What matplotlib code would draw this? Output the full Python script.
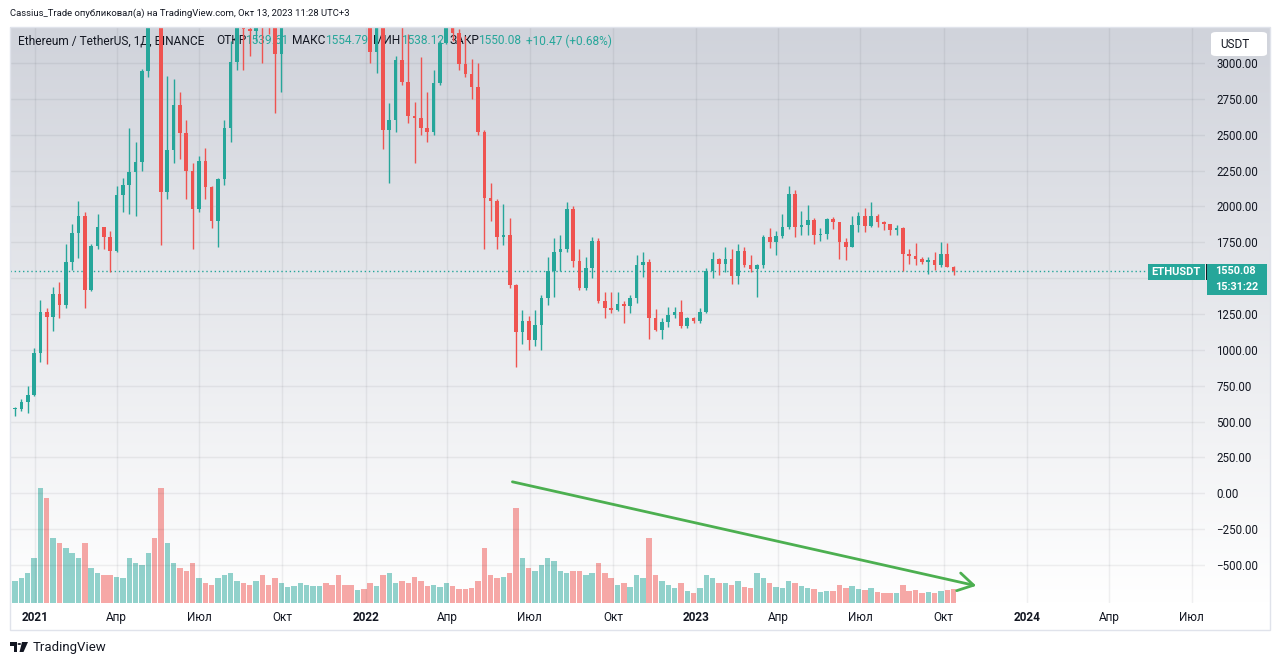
import matplotlib
matplotlib.use("Agg")
import matplotlib.pyplot as plt
import matplotlib.dates as mdates
from matplotlib import font_manager
from matplotlib.patches import Rectangle, FancyBboxPatch, Polygon, Circle
import numpy as np
import pandas as pd

plt.rcParams['font.family'] = ['Roboto', 'DejaVu Sans']

# weekly ETHUSDT candles (week starting Monday)
week_start = pd.date_range("2020-12-07", periods=149, freq="7D")
first_open = 590
closes = [590, 638, 685, 975, 1262, 1230, 1390, 1315, 1615, 1815,
          1935, 1415, 1725, 1855, 1785, 1690, 2080, 2150, 2240, 2310,
          2945, 3900, 3580, 2100, 2390, 2710, 2510, 2250, 1980, 2320,
          2135, 1900, 2190, 2550, 3010, 3310, 3240, 3225, 3930, 3410,
          3330, 3060, 3390, 3415, 3845, 4085, 4290, 4610, 4650, 4310,
          4290, 4190, 4060, 3920, 4050, 3830, 3080, 3330, 2530, 2600,
          3020, 2870, 2630, 2620, 2550, 2520, 2860, 3140, 3520, 3210,
          2990, 2920, 2830, 2520, 2060, 2040, 1790, 1800, 1450, 1125,
          1200, 1070, 1170, 1360, 1550, 1680, 1700, 1985, 1620, 1430,
          1570, 1760, 1340, 1295, 1275, 1320, 1305, 1365, 1590, 1610,
          1220, 1140, 1195, 1240, 1265, 1165, 1220, 1200, 1265, 1550,
          1630, 1600, 1630, 1515, 1690, 1595, 1565, 1590, 1790, 1750,
          1795, 1860, 2090, 1860, 1870, 1905, 1800, 1810, 1910, 1890,
          1750, 1720, 1870, 1935, 1865, 1935, 1890, 1880, 1835, 1850,
          1670, 1655, 1630, 1615, 1625, 1590, 1670, 1580, 1550.08]
highs = [600, 660, 750, 1015, 1350, 1290, 1440, 1475, 1740, 1875,
         2040, 1960, 1740, 1945, 1860, 1830, 2145, 2200, 2550, 2450,
         2960, 3980, 4370, 3600, 2910, 2890, 2800, 2600, 2300, 2350,
         2410, 2140, 2200, 2600, 3150, 3330, 3300, 3380, 4020, 4030,
         3680, 3320, 3490, 3670, 3900, 4380, 4460, 4660, 4870, 4770,
         4550, 4780, 4420, 4100, 4150, 4130, 3880, 3410, 3360, 2720,
         3050, 3280, 3200, 2730, 3040, 2800, 2950, 3150, 3580, 3555,
         3240, 3190, 3030, 3000, 2530, 2160, 2050, 2020, 1920, 1460,
         1280, 1235, 1280, 1380, 1650, 1780, 1800, 2030, 2000, 1700,
         1650, 1790, 1780, 1400, 1400, 1400, 1340, 1380, 1660, 1680,
         1630, 1285, 1220, 1300, 1300, 1350, 1230, 1230, 1290, 1570,
         1680, 1640, 1715, 1700, 1740, 1720, 1660, 1600, 1800, 1850,
         1830, 1950, 2140, 2115, 1965, 2010, 1920, 1850, 1920, 1925,
         1890, 1780, 1930, 1960, 1990, 2030, 1945, 1895, 1880, 1870,
         1860, 1700, 1745, 1650, 1650, 1680, 1750, 1745, 1585]
lows = [540, 575, 560, 680, 915, 900, 1130, 1220, 1290, 1560,
        1640, 1290, 1410, 1700, 1700, 1540, 1680, 1960, 1950, 1930,
        2250, 2900, 3500, 1730, 2050, 2300, 2330, 2050, 1700, 1960,
        2050, 1850, 1720, 2150, 2450, 2950, 2950, 3050, 3150, 3000,
        3200, 2650, 2800, 3280, 3400, 3700, 3900, 4150, 4490, 3950,
        3920, 3500, 3900, 3640, 3900, 3600, 3000, 2930, 2400, 2160,
        2520, 2850, 2580, 2300, 2500, 2450, 2500, 2850, 3130, 3150,
        2950, 2900, 2750, 2500, 1700, 1900, 1700, 1730, 1430, 880,
        1040, 1000, 1030, 1000, 1310, 1370, 1550, 1680, 1580, 1420,
        1420, 1500, 1330, 1220, 1260, 1270, 1190, 1255, 1330, 1510,
        1075, 1130, 1075, 1160, 1220, 1155, 1150, 1185, 1190, 1260,
        1500, 1520, 1540, 1460, 1460, 1580, 1540, 1370, 1570, 1710,
        1660, 1780, 1840, 1790, 1800, 1800, 1740, 1760, 1770, 1845,
        1630, 1625, 1720, 1820, 1820, 1855, 1860, 1835, 1800, 1800,
        1550, 1600, 1590, 1600, 1530, 1560, 1575, 1575, 1520]
# volume, thousand ETH per day (typical level of the week)
volumes = [730, 830, 990, 1490, 3800, 3450, 2150, 1980, 1815, 1650,
           1485, 1980, 1155, 990, 925, 925, 860, 825, 1485, 1320,
           1255, 1650, 2145, 3800, 1980, 1320, 1155, 1055, 1320, 825,
           660, 595, 825, 925, 990, 725, 660, 595, 725, 925,
           595, 825, 660, 530, 560, 660, 595, 560, 560, 660,
           595, 925, 595, 595, 430, 460, 660, 560, 925, 990,
           660, 725, 660, 860, 725, 560, 595, 530, 660, 560,
           460, 460, 495, 725, 1815, 925, 825, 860, 990, 3135,
           1485, 1155, 1055, 1255, 1485, 1385, 1055, 990, 1055, 1055,
           925, 990, 1320, 990, 825, 595, 660, 530, 925, 825,
           2145, 925, 725, 595, 495, 660, 395, 330, 495, 925,
           825, 660, 660, 595, 725, 530, 495, 990, 825, 660,
           530, 495, 725, 660, 560, 495, 460, 365, 395, 395,
           595, 495, 560, 460, 430, 495, 365, 330, 330, 330,
           595, 395, 430, 330, 365, 330, 395, 430, 460]

price_ticks = list(range(-500, 3001, 250))
time_ticks = ["2021-01-01", "2021-04-01", "2021-07-01", "2021-10-01",
              "2022-01-01", "2022-04-01", "2022-07-01", "2022-10-01",
              "2023-01-01", "2023-04-01", "2023-07-01", "2023-10-01",
              "2024-01-01", "2024-04-01", "2024-07-01"]
time_labels = ["2021", "Апр", "Июл", "Окт", "2022", "Апр", "Июл", "Окт",
               "2023", "Апр", "Июл", "Окт", "2024", "Апр", "Июл"]
last_price = 1550.08
arrow_start = ("2022-06-12", 80)
arrow_end = ("2023-11-06", -645)

UP, DOWN = '#26a69a', '#ef5350'
TXT = '#131722'
W, H = 1281, 665

installed = {f.name for f in font_manager.fontManager.ttflist}
if 'Liberation Sans Narrow' in installed:
    head_font, head_size = ['Liberation Sans Narrow', 'DejaVu Sans'], 8.6
else:
    head_font, head_size = ['Roboto', 'DejaVu Sans'], 6.8


def fx(x):
    return x / W


def fy(y):
    return 1 - y / H


fig = plt.figure(figsize=(W / 100, H / 100), dpi=100)
fig.patch.set_facecolor('white')

# gradient background of the chart pane
bg = fig.add_axes([fx(10), fy(603), fx(1270) - fx(10), fy(27) - fy(603)])
bg.axis('off')
t = np.linspace(0, 1, 256)[:, None, None]
top_c = np.array([208, 211, 219]) / 255
bot_c = np.array([255, 255, 255]) / 255
bg.imshow(top_c * (1 - t) + bot_c * t, aspect='auto', extent=[0, 1, 0, 1])

rect = [fx(10), fy(603), fx(1205) - fx(10), fy(27) - fy(603)]
vax = fig.add_axes(rect)
ax = fig.add_axes(rect, sharex=vax)
ax.set_facecolor('none')
vax.set_facecolor('none')

x = mdates.date2num(week_start) + 3
o = np.array([first_open] + closes[:-1], dtype=float)
c = np.array(closes, dtype=float)
up = c >= o
cols = [UP if u else DOWN for u in up]

# volume
vax.bar(x, volumes, width=6.0, color=cols, alpha=0.5, linewidth=0)
vax.set_ylim(0, 19000)
vax.axis('off')

# candles
ax.vlines(x, lows, highs, colors=cols, linewidth=1, zorder=3)
ax.bar(x, np.maximum(np.abs(c - o), 6), bottom=np.minimum(o, c), width=4.0,
       color=cols, linewidth=0, zorder=3)

x0 = mdates.date2num(pd.Timestamp("2021-01-01"))
ax.set_xlim(x0 - 27.6, x0 + 1291.5)
ax.set_ylim(-765, 3251)

ax.set_yticks(price_ticks)
# the 1500 label sits under the last-price tag
ax.set_yticklabels(["" if v == 1500 else f"{v:.2f}".replace('-', '\u2212')
                    for v in price_ticks])
ax.yaxis.tick_right()
ax.tick_params(axis='y', length=0, pad=8, labelsize=8.3, labelcolor=TXT)
ax.set_xticks(mdates.date2num(pd.to_datetime(time_ticks)))
ax.set_xticklabels(time_labels)
ax.tick_params(axis='x', length=0, pad=6, labelsize=8.5, labelcolor=TXT)
for lab in ax.get_xticklabels():
    if lab.get_text().isdigit():
        lab.set_fontweight('bold')
for s in ax.spines.values():
    s.set_visible(False)
ax.grid(True, color='#2a2e39', alpha=0.07, linewidth=1)

ax.axhline(last_price, xmin=0, xmax=(1148 - 10) / 1195, color=UP,
           linestyle=(0, (1, 2)), linewidth=1, zorder=2)

ax.annotate('', xy=(mdates.date2num(pd.Timestamp(arrow_end[0])), arrow_end[1]),
            xytext=(mdates.date2num(pd.Timestamp(arrow_start[0])), arrow_start[1]),
            arrowprops=dict(arrowstyle='->,head_length=1.1,head_width=0.65',
                            color='#4caf50', lw=2, shrinkA=0, shrinkB=0),
            zorder=5)

# legend line under the candles
legend = [(18, "Ethereum / TetherUS, 1Д, BINANCE", TXT),
          (216, "ОТКР", TXT), (245, "1539.61", UP),
          (292, "МАКС", TXT), (325, "1554.79", UP),
          (373, "МИН", TXT), (401, "1538.12", UP),
          (449, "ЗАКР", TXT), (478, "1550.08", UP),
          (526, "+10.47 (+0.68%)", UP)]
for px, s, col in legend:
    ax.text(fx(px), fy(41), s, transform=fig.transFigure, fontsize=8.6,
            color=col, va='center', ha='left', zorder=2)

# pane border
fig.add_artist(Rectangle((fx(10), fy(630)), fx(1270) - fx(10), fy(27) - fy(630),
                         transform=fig.transFigure, fill=False,
                         edgecolor='#e0e3eb', linewidth=1))

# USDT box
fig.add_artist(FancyBboxPatch((fx(1211), fy(56)), fx(1267) - fx(1211), fy(32) - fy(56),
                              boxstyle='round,pad=0,rounding_size=0.004',
                              transform=fig.transFigure, facecolor='white',
                              edgecolor='none'))
fig.text(fx(1220), fy(44), "USDT", fontsize=8.5, color=TXT, va='center', ha='left')

# last price labels
fig.add_artist(Rectangle((fx(1148), fy(280)), fx(1205) - fx(1148), fy(264) - fy(280),
                         transform=fig.transFigure, facecolor=UP, edgecolor='none'))
fig.text(fx(1176), fy(272), "ETHUSDT", fontsize=8, color='white',
         fontweight='bold', va='center', ha='center')
fig.add_artist(Rectangle((fx(1207), fy(295)), fx(1267) - fx(1207), fy(264) - fy(295),
                         transform=fig.transFigure, facecolor=UP, edgecolor='none'))
fig.add_artist(Rectangle((fx(1205.5), fy(280)), fx(1207) - fx(1205.5), fy(264) - fy(280),
                         transform=fig.transFigure, facecolor=TXT, edgecolor='none'))
fig.text(fx(1215), fy(271.5), "1550.08", fontsize=7.8, color='white',
         fontweight='bold', va='center', ha='left')
fig.text(fx(1215), fy(287.5), "15:31:22", fontsize=7.8, color='white',
         fontweight='bold', va='center', ha='left')

# header
fig.text(fx(10), fy(13), "Cassius_Trade опубликовал(а) на TradingView.com, Окт 13, 2023 11:28 UTC+3",
         fontsize=head_size, family=head_font, color=TXT, va='center', ha='left')

# TradingView logo
fig.add_artist(Polygon([(fx(10), fy(642)), (fx(17), fy(642)), (fx(17), fy(652)),
                        (fx(13.5), fy(652)), (fx(13.5), fy(645.5)), (fx(10), fy(645.5))],
                       closed=True, transform=fig.transFigure, facecolor=TXT, edgecolor='none'))
fig.add_artist(Circle((fx(19.3), fy(644)), 1.8 / W, transform=fig.transFigure,
                      facecolor=TXT, edgecolor='none'))
fig.add_artist(Polygon([(fx(22), fy(642)), (fx(28), fy(642)), (fx(23.5), fy(652)),
                        (fx(19.5), fy(652))],
                       closed=True, transform=fig.transFigure, facecolor=TXT, edgecolor='none'))
fig.text(fx(33), fy(647), "TradingView", fontsize=9.5, color=TXT, va='center', ha='left')

fig.savefig("out.png", dpi=100, facecolor='white')
